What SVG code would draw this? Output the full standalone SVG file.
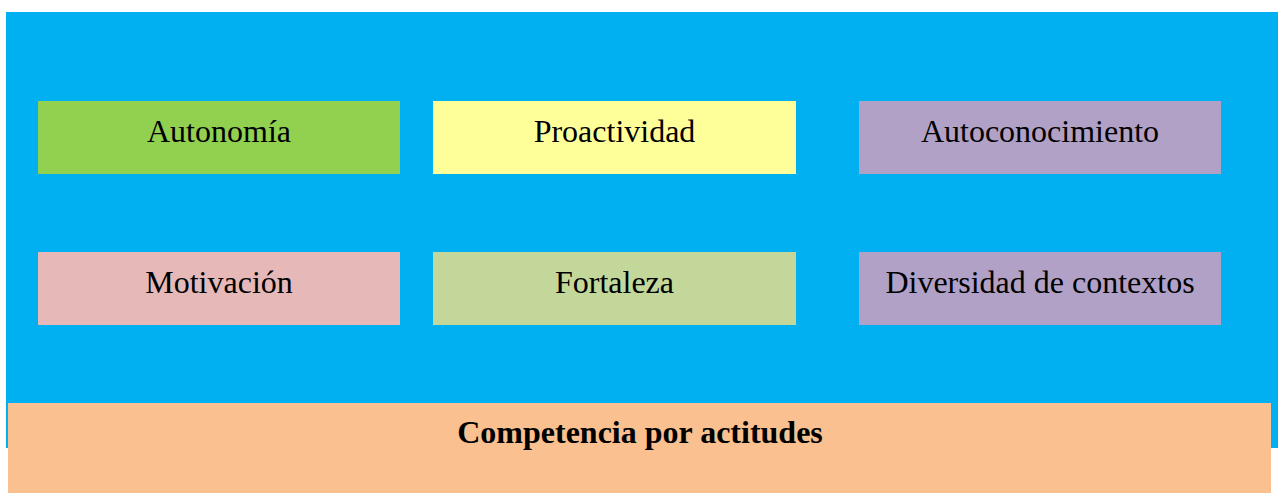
<svg xmlns="http://www.w3.org/2000/svg" width="1278" height="493" viewBox="0 0 1278 493">
<style>
.t{font-family:"Liberation Serif","Times New Roman",serif;font-size:32px;fill:#000;text-anchor:middle}
.b{font-weight:bold}
</style>
<rect width="1278" height="493" fill="#fff"/>
<g id="container">
<rect x="6" y="12" width="1272" height="436" fill="#00B0F0"/>
</g>
<g id="autonomia"><rect x="38" y="101" width="362" height="73" fill="#92D050"/><text class="t" x="219" y="142">Autonomía</text></g>
<g id="proactividad"><rect x="433" y="101" width="363" height="73" fill="#FFFF99"/><text class="t" x="614.5" y="142">Proactividad</text></g>
<g id="autoconocimiento"><rect x="859" y="101" width="362" height="73" fill="#B2A1C7"/><text class="t" x="1040" y="142">Autoconocimiento</text></g>
<g id="motivacion"><rect x="38" y="252" width="362" height="73" fill="#E6B9B8"/><text class="t" x="219" y="293">Motivación</text></g>
<g id="fortaleza"><rect x="433" y="252" width="363" height="73" fill="#C4D79B"/><text class="t" x="614.5" y="293">Fortaleza</text></g>
<g id="diversidad"><rect x="859" y="252" width="362" height="73" fill="#B2A1C7"/><text class="t" x="1040" y="293">Diversidad de contextos</text></g>
<g id="competencia"><rect x="8" y="403" width="1263" height="90" fill="#FAC090"/><text class="t b" x="640" y="443">Competencia por actitudes</text></g>
<g id="connectors"></g>
</svg>
